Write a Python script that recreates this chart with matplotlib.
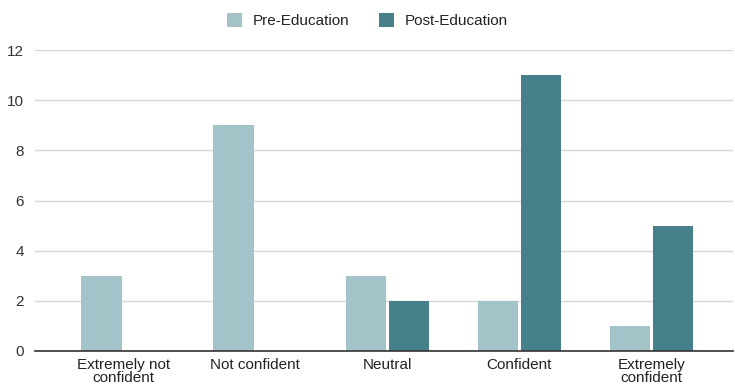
import matplotlib
matplotlib.use("Agg")
import matplotlib.pyplot as plt
import numpy as np
from matplotlib.patches import Patch

categories = ["Extremely not\nconfident", "Not confident", "Neutral", "Confident", "Extremely\nconfident"]
pre_education = [3, 9, 3, 2, 1]
post_education = [0, 0, 2, 11, 5]
series_names = ["Pre-Education", "Post-Education"]
colors = ["#a4c3c8", "#46808b"]

plt.rcParams["font.family"] = ["Liberation Sans", "DejaVu Sans"]

fig = plt.figure(figsize=(7.35, 3.86), dpi=100)
ax = fig.add_axes([0.0476, 0.0907, 0.95, 0.7793])

x = np.arange(len(categories))
width = 0.305
offset = 0.163
ax.bar(x - offset, pre_education, width, color=colors[0], edgecolor="none", zorder=3)
ax.bar(x + offset, post_education, width, color=colors[1], edgecolor="none", zorder=3)

ax.set_ylim(0, 12)
ax.set_xlim(-0.667, 4.62)
ax.set_yticks(range(0, 13, 2))
ax.set_xticks(x)
ax.set_xticklabels(categories, fontsize=11, color="#222222", linespacing=0.95)
ax.tick_params(axis="y", labelsize=11, labelcolor="#333333", length=0, pad=8)
ax.tick_params(axis="x", length=0, pad=5)

ax.grid(axis="y", color="#d6d6d6", linewidth=1, zorder=0)
for side in ["top", "right", "left"]:
    ax.spines[side].set_visible(False)
ax.spines["bottom"].set_color("#333333")
ax.spines["bottom"].set_linewidth(1.2)
ax.spines["bottom"].set_zorder(4)

handles = [Patch(facecolor=c, edgecolor="none") for c in colors]
fig.legend(handles, series_names, loc="center", bbox_to_anchor=(0.5, 0.947), ncol=2,
           frameon=False, fontsize=11, handlelength=1.0, handleheight=1.0,
           columnspacing=1.9, handletextpad=0.7, labelcolor="#222222")

fig.savefig("out.png", dpi=100)
